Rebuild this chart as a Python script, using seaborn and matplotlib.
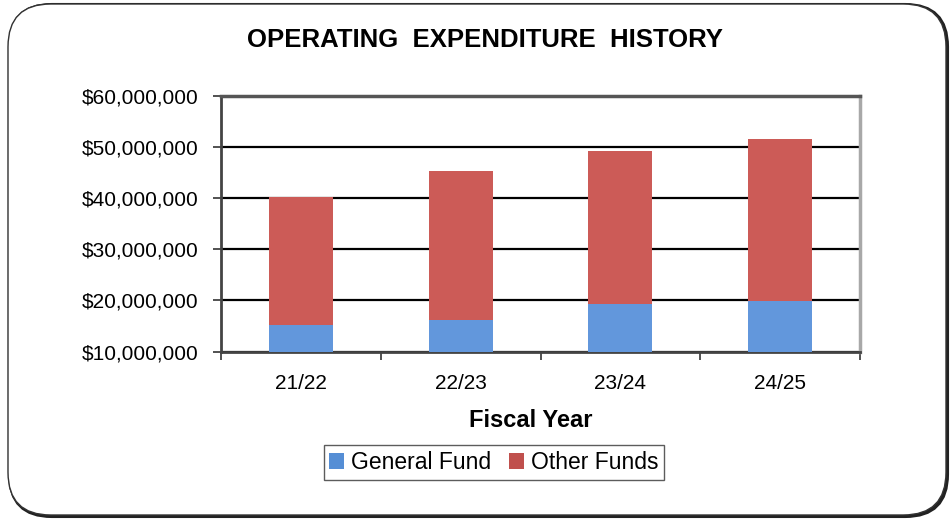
import matplotlib
matplotlib.use("Agg")
import matplotlib.pyplot as plt
from matplotlib.patches import FancyBboxPatch, Patch
from matplotlib.ticker import FuncFormatter, FixedLocator
import seaborn as sns
import pandas as pd

# Operating expenditure by fiscal year (dollars)
fiscal_years = ["21/22", "22/23", "23/24", "24/25"]
general_fund = [15_100_000, 16_100_000, 19_200_000, 19_900_000]
other_funds = [25_100_000, 29_200_000, 29_900_000, 31_600_000]
y_ticks = [10_000_000, 20_000_000, 30_000_000, 40_000_000, 50_000_000, 60_000_000]

blue = "#6297DC"
red = "#CC5B57"
legend_blue = "#558ED5"
legend_red = "#C0504D"

sns.set_theme(style="white")
plt.rcParams["font.family"] = ["Liberation Sans", "DejaVu Sans"]
plt.rcParams["text.color"] = "black"
plt.rcParams["axes.labelcolor"] = "black"
plt.rcParams["xtick.color"] = "black"
plt.rcParams["ytick.color"] = "black"

df = pd.DataFrame({
    "year": fiscal_years,
    "general": general_fund,
    "other": other_funds,
})
df["total"] = df["general"] + df["other"]

W, H = 951, 521
fig = plt.figure(figsize=(W / 100, H / 100), dpi=100)
fig.patch.set_facecolor("white")

# Rounded outer frame with a drop shadow along the bottom
shadow = FancyBboxPatch((9 / W, 4 / H), 939 / W, 513 / H,
                        boxstyle="round,pad=0,rounding_size=0.045",
                        transform=fig.transFigure, facecolor="#222222",
                        edgecolor="#222222", lw=1.5, zorder=-2,
                        mutation_aspect=W / H)
frame = FancyBboxPatch((8 / W, 6 / H), 938 / W, 511 / H,
                       boxstyle="round,pad=0,rounding_size=0.045",
                       transform=fig.transFigure, facecolor="white",
                       edgecolor="#333333", lw=1.0, zorder=-1,
                       mutation_aspect=W / H)
fig.patches.extend([shadow, frame])

left, right, top, bottom = 221, 860, 95.7, 351.5
ax = fig.add_axes([left / W, 1 - bottom / H, (right - left) / W, (bottom - top) / H])
ax.set_zorder(2)
ax.set_facecolor("none")

# Stacked bars: full total first, general fund drawn over it
sns.barplot(data=df, x="year", y="total", color=red, width=0.4,
            saturation=1, linewidth=0, edgecolor="none", ax=ax, zorder=3)
sns.barplot(data=df, x="year", y="general", color=blue, width=0.4,
            saturation=1, linewidth=0, edgecolor="none", ax=ax, zorder=4)

ax.set_ylim(10_000_000, 60_000_000)
ax.set_xlim(-0.5, len(fiscal_years) - 0.5)
ax.yaxis.set_major_locator(FixedLocator(y_ticks))
ax.yaxis.set_major_formatter(FuncFormatter(lambda v, _: f"${v:,.0f}"))

ax.yaxis.grid(True, color="black", lw=1.6, zorder=1)
ax.set_axisbelow(True)

ax.tick_params(axis="y", which="major", direction="out", length=6, width=1.2,
               color="#333333", left=True, labelsize=15, pad=10)
ax.tick_params(axis="x", which="major", length=0, labelsize=15, pad=16)
ax.set_xticks([i - 0.5 for i in range(len(fiscal_years) + 1)], minor=True)
ax.tick_params(axis="x", which="minor", direction="out", length=6, width=1.2,
               color="#333333", bottom=True)

for side in ("left", "bottom"):
    ax.spines[side].set_color("#444444")
    ax.spines[side].set_linewidth(2.0)
for side in ("top", "right"):
    ax.spines[side].set_visible(True)
    ax.spines[side].set_color("#A8A8A8")
    ax.spines[side].set_linewidth(2.5)
ax.spines["top"].set_color("#555555")

ax.set_xlabel("Fiscal Year", fontsize=17, fontweight="bold", labelpad=12)
ax.xaxis.set_label_coords(0.484, -0.225)
ax.set_ylabel("")

fig.text(485 / W, 1 - 40 / H, "OPERATING  EXPENDITURE  HISTORY",
         ha="center", va="center", fontsize=18.5, fontweight="bold")

handles = [Patch(facecolor=legend_blue, edgecolor="none", label="General Fund"),
           Patch(facecolor=legend_red, edgecolor="none", label="Other Funds")]
leg = fig.legend(handles=handles, loc="center", ncol=2,
                 bbox_to_anchor=(494 / W, 1 - 462.5 / H), fontsize=16.5,
                 frameon=True, fancybox=False, edgecolor="#333333",
                 handlelength=0.65, handleheight=0.65, handletextpad=0.3,
                 columnspacing=0.8, borderpad=0.25, borderaxespad=0)
leg.get_frame().set_linewidth(1.0)
leg.set_zorder(3)

fig.savefig("out.png", dpi=100)
